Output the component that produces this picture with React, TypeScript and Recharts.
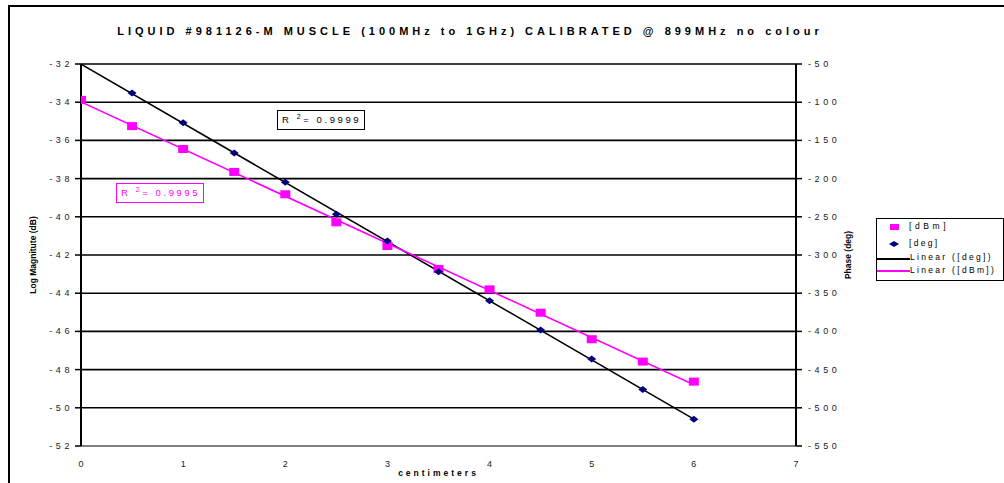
import React from 'react';
import {
  ComposedChart,
  Scatter,
  Line,
  XAxis,
  YAxis,
  CartesianGrid,
} from 'recharts';

// distance along the probe (cm)
const dbmCm = [0, 0.5, 1, 1.5, 2, 2.5, 3, 3.5, 4, 4.5, 5, 5.5, 6];
const dbmValues = [-33.88, -35.25, -36.45, -37.65, -38.82, -40.29, -41.53, -42.73, -43.8, -45.02, -46.41, -47.58, -48.63];

const degCm = [0.5, 1, 1.5, 2, 2.5, 3, 3.5, 4, 4.5, 5, 5.5, 6];
const degValues = [-88, -127, -166.5, -204.9, -246.8, -281.7, -321.9, -359.8, -398.2, -436.2, -475.9, -515.1];

const xTicks = [0, 1, 2, 3, 4, 5, 6, 7];
const dbTicks = [-52, -50, -48, -46, -44, -42, -40, -38, -36, -34, -32];
const phaseTicks = [-550, -500, -450, -400, -350, -300, -250, -200, -150, -100, -50];

const PINK = '#FF00FF';
const NAVY = '#000080';
const FONT = '"Liberation Sans", Arial, sans-serif';

const dbmPoints = dbmCm.map((x, i) => ({ x, y: dbmValues[i] }));
const degPoints = degCm.map((x, i) => ({ x, y: degValues[i] }));

// least squares trendline, drawn from 0 to 6 cm like Excel does
const trend = (pts: { x: number; y: number }[]) => {
  const n = pts.length;
  const mx = pts.reduce((s, p) => s + p.x, 0) / n;
  const my = pts.reduce((s, p) => s + p.y, 0) / n;
  let sxy = 0;
  let sxx = 0;
  pts.forEach((p) => {
    sxy += (p.x - mx) * (p.y - my);
    sxx += (p.x - mx) * (p.x - mx);
  });
  const slope = sxy / sxx;
  const icpt = my - slope * mx;
  return [0, 6].map((x) => ({ x, y: icpt + slope * x }));
};

const dbmTrend = trend(dbmPoints);
const degTrend = trend(degPoints);

const Diamond = (props: any) => {
  const { cx, cy } = props;
  return <polygon points={`${cx - 4.5},${cy} ${cx},${cy - 3.5} ${cx + 4.5},${cy} ${cx},${cy + 3.5}`} fill={NAVY} />;
};

const Square = (props: any) => {
  const { cx, cy } = props;
  return <rect x={cx - 5} y={cy - 4} width={10} height={8} fill={PINK} />;
};

// spaced-out tick labels like the old Excel export
const SpacedTick = (props: any) => {
  const { x, y, payload, textAnchor, spacing = 3.6 } = props;
  return (
    <text
      x={x}
      y={y}
      dy={3}
      textAnchor={textAnchor}
      style={{ fontSize: 9, fill: '#222', letterSpacing: spacing, fontFamily: FONT }}
    >
      {payload.value}
    </text>
  );
};

const legendText: React.CSSProperties = { fontSize: 8.5, letterSpacing: 2.3, fontFamily: FONT, color: '#000', lineHeight: '11px' };

const LegendBox = () => (
  <div
    style={{
      position: 'absolute',
      left: 876,
      top: 218,
      border: '1.5px solid #000',
      width: 128,
      height: 63,
      background: '#fff',
      boxSizing: 'border-box',
    }}
  >
    <div style={{ position: 'absolute', left: 13, top: 5, width: 9, height: 6, background: PINK }} />
    <div style={{ ...legendText, letterSpacing: 3.6, position: 'absolute', left: 32, top: 2 }}>[dBm]</div>
    <svg style={{ position: 'absolute', left: 11, top: 21 }} width={12} height={8}>
      <polygon points="1,4 6,1 11,4 6,7" fill={NAVY} />
    </svg>
    <div style={{ ...legendText, position: 'absolute', left: 32, top: 19 }}>[deg]</div>
    <div style={{ position: 'absolute', left: 0, top: 39, width: 33, height: 1.5, background: '#000' }} />
    <div style={{ ...legendText, position: 'absolute', left: 33, top: 33 }}>Linear ([deg])</div>
    <div style={{ position: 'absolute', left: 0, top: 51, width: 33, height: 1.5, background: PINK }} />
    <div style={{ ...legendText, position: 'absolute', left: 33, top: 46 }}>Linear ([dBm])</div>
  </div>
);

const rBox: React.CSSProperties = {
  position: 'absolute',
  padding: '3px 3px 3px 4px',
  fontSize: 9.5,
  letterSpacing: 2.6,
  background: '#fff',
  lineHeight: '12px',
};

export default function App() {
  return (
    <div style={{ position: 'absolute', left: 0, top: 0, width: 1004, height: 483, background: '#fff', fontFamily: FONT, overflow: 'hidden' }}>
      <div
        style={{
          position: 'absolute',
          left: 8,
          top: 5,
          width: 1010,
          height: 490,
          border: '2px solid #000',
          boxSizing: 'border-box',
        }}
      />
      <div
        style={{
          position: 'absolute',
          left: 0,
          width: 940,
          top: 25,
          textAlign: 'center',
          fontSize: 11,
          fontWeight: 'bold',
          letterSpacing: 4,
          color: '#000',
        }}
      >
        LIQUID #981126-M MUSCLE (100MHz to 1GHz) CALIBRATED @ 899MHz no colour
      </div>

      <ComposedChart
        width={1004}
        height={483}
        margin={{ top: 64, right: 148, bottom: 17, left: 41 }}
        style={{ position: 'absolute', left: 0, top: 0 }}
      >
        <CartesianGrid horizontal vertical={false} stroke="#000" strokeWidth={1.6} yAxisId="db" />
        <XAxis
          xAxisId="x"
          type="number"
          dataKey="x"
          domain={[0, 7]}
          ticks={xTicks}
          tickLine={false}
          axisLine={{ stroke: '#808080', strokeWidth: 2 }}
          tick={<SpacedTick spacing={0} />}
          tickMargin={12}
          height={20}
          allowDataOverflow
        />
        <XAxis
          xAxisId="top"
          orientation="top"
          type="number"
          domain={[0, 7]}
          ticks={xTicks}
          axisLine={false}
          tickLine={{ stroke: '#000', strokeWidth: 1.5 }}
          tickSize={5}
          mirror
          tickFormatter={() => ''}
          height={0}
        />
        <YAxis
          yAxisId="db"
          type="number"
          domain={[-52, -32]}
          ticks={dbTicks}
          width={40}
          axisLine={{ stroke: '#000', strokeWidth: 2 }}
          tickLine={{ stroke: '#000', strokeWidth: 1.5 }}
          tickSize={6}
          tickMargin={2}
          tick={<SpacedTick />}
          allowDataOverflow
          label={{
            value: 'Log Magnitute (dB)',
            angle: -90,
            position: 'insideLeft',
            offset: -8,
            style: { fontSize: 8.5, fontWeight: 'bold', fill: '#000', textAnchor: 'middle', fontFamily: FONT },
          }}
        />
        <YAxis
          yAxisId="deg"
          orientation="right"
          type="number"
          domain={[-550, -50]}
          ticks={phaseTicks}
          width={60}
          axisLine={{ stroke: '#000', strokeWidth: 2 }}
          tickLine={{ stroke: '#000', strokeWidth: 1.5 }}
          tickSize={6}
          tickMargin={6}
          tick={<SpacedTick />}
          allowDataOverflow
          label={{
            value: 'Phase (deg)',
            angle: -90,
            position: 'insideRight',
            offset: 8,
            style: { fontSize: 8.5, fontWeight: 'bold', fill: '#000', textAnchor: 'middle', fontFamily: FONT },
          }}
        />

        <Line
          xAxisId="x"
          yAxisId="deg"
          data={degTrend}
          dataKey="y"
          type="linear"
          stroke="#000"
          strokeWidth={1.6}
          dot={false}
          activeDot={false}
          isAnimationActive={false}
          name="Linear ([deg])"
        />
        <Line
          xAxisId="x"
          yAxisId="db"
          data={dbmTrend}
          dataKey="y"
          type="linear"
          stroke={PINK}
          strokeWidth={1.6}
          dot={false}
          activeDot={false}
          isAnimationActive={false}
          name="Linear ([dBm])"
        />
        <Scatter
          xAxisId="x"
          yAxisId="db"
          data={dbmPoints}
          dataKey="y"
          shape={<Square />}
          isAnimationActive={false}
          name="[dBm]"
        />
        <Scatter
          xAxisId="x"
          yAxisId="deg"
          data={degPoints}
          dataKey="y"
          shape={<Diamond />}
          isAnimationActive={false}
          name="[deg]"
        />
      </ComposedChart>

      <LegendBox />

      <div style={{ ...rBox, left: 277, top: 110, border: '1.5px solid #000', color: '#000' }}>
        R <sup style={{ fontSize: 7, lineHeight: 0 }}>2</sup>= 0.9999
      </div>
      <div style={{ ...rBox, left: 116, top: 183, border: '1.5px solid ' + PINK, color: PINK }}>
        R <sup style={{ fontSize: 7, lineHeight: 0 }}>2</sup>= 0.9995
      </div>

      <div
        style={{
          position: 'absolute',
          left: 81,
          width: 715,
          top: 468,
          textAlign: 'center',
          fontSize: 8.5,
          fontWeight: 'bold',
          letterSpacing: 3,
          color: '#000',
        }}
      >
        centimeters
      </div>
    </div>
  );
}
